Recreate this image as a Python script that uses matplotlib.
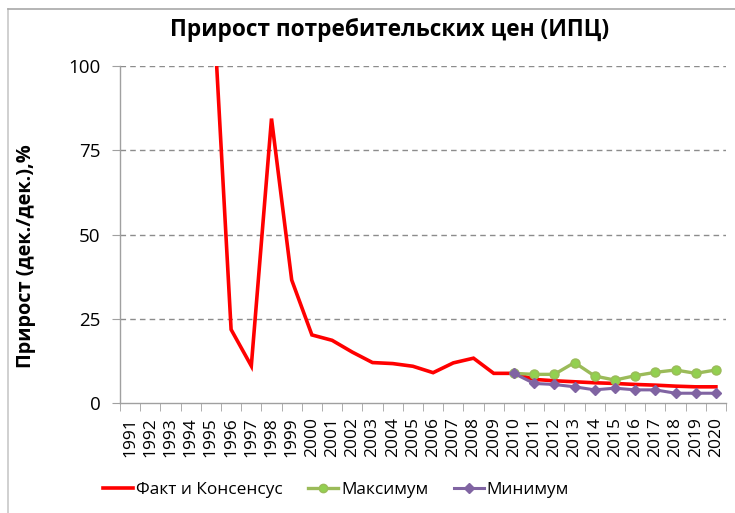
import matplotlib
matplotlib.use('Agg')
import matplotlib.pyplot as plt
from matplotlib.lines import Line2D

plt.rcParams['font.family'] = ['Open Sans', 'DejaVu Sans']

years = [str(y) for y in range(1991, 2021)]
fact = [160.4, 2508.8, 839.9, 215.1, 131.3, 21.8, 11.0, 84.4, 36.5, 20.2,
        18.6, 15.1, 12.0, 11.7, 10.9, 9.0, 11.9, 13.3, 8.8, 8.8,
        7.0, 6.6, 6.3, 6.0, 5.8, 5.5, 5.3, 5.0, 4.8, 4.8]
fc_years = [str(y) for y in range(2010, 2021)]
maximum = [8.8, 8.5, 8.5, 12.0, 8.0, 6.8, 8.1, 9.1, 9.8, 8.8, 9.8]
minimum = [8.8, 5.8, 5.5, 4.8, 3.9, 4.4, 3.9, 3.9, 2.9, 2.9, 2.9]
yticks = [0, 25, 50, 75, 100]

title = 'Прирост потребительских цен (ИПЦ)'
ylabel = 'Прирост (дек./дек.),%'
labels = ['Факт и Консенсус', 'Максимум', 'Минимум']

W, H = 735, 513
fig = plt.figure(figsize=(W / 100, H / 100), dpi=100)
ax = fig.add_axes([120 / W, 1 - 403 / H, (726 - 120) / W, (403 - 66) / H])

x_all = list(range(len(years)))
off = years.index(fc_years[0])
x_fc = [off + i for i in range(len(fc_years))]

ax.plot(x_all, fact, color='#FF0000', lw=2.6, zorder=3, solid_joinstyle='miter')
ax.plot(x_fc, maximum, color='#9BBB59', lw=2.4, marker='o', ms=6.5,
        mfc='#92D050', mec='#9BBB59', mew=1, zorder=4)
ax.plot(x_fc, minimum, color='#8064A2', lw=2.2, marker='D', ms=5.5,
        mfc='#8064A2', mec='#8064A2', zorder=5)

ax.set_xlim(-0.5, len(years) - 0.5)
ax.set_ylim(0, 100)
ax.set_yticks(yticks)
ax.set_yticklabels([str(v) for v in yticks], fontsize=13.5)
ax.set_xticks(x_all)
ax.set_xticklabels(years, rotation=90, fontsize=12.5)
ax.set_xticks([i - 0.5 for i in range(len(years) + 1)], minor=True)
ax.tick_params(axis='x', which='major', length=0, pad=10)
ax.tick_params(axis='x', which='minor', length=6, color='#A0A0A0', direction='out')
ax.tick_params(axis='y', length=6, color='#A0A0A0', direction='out', pad=8)

for v in yticks[1:]:
    ax.axhline(v, color='#8C8C8C', lw=1, ls=(0, (4, 3)), zorder=1)

for s in ['top', 'right']:
    ax.spines[s].set_visible(False)
for s in ['left', 'bottom']:
    ax.spines[s].set_color('#A0A0A0')
    ax.spines[s].set_linewidth(1)

fig.text(390 / W, 1 - 30 / H, title, ha='center', va='center',
         fontsize=16.3, fontweight='bold')
fig.text(26 / W, 1 - 256 / H, ylabel, ha='center', va='center',
         rotation=90, fontsize=14.3, fontweight='bold')

handles = [
    Line2D([], [], color='#FF0000', lw=2.6),
    Line2D([], [], color='#9BBB59', lw=2.4, marker='o', ms=6, mfc='#92D050', mec='#9BBB59'),
    Line2D([], [], color='#8064A2', lw=2.2, marker='D', ms=5, mfc='#8064A2'),
]
fig.legend(handles, labels, loc='center left', bbox_to_anchor=(103 / W, 1 - 490 / H),
           ncol=3, frameon=False, fontsize=12.4, handlelength=1.75, handletextpad=0.15,
           columnspacing=1.5, borderaxespad=0, borderpad=0)

# chart area border
fig.add_artist(Line2D([8 / W, 8 / W], [0, 1 - 9 / H], transform=fig.transFigure,
                      color='#C8C8C8', lw=1.2))
fig.add_artist(Line2D([8 / W, 1], [1 - 9 / H, 1 - 9 / H], transform=fig.transFigure,
                      color='#A8A8A8', lw=1.2))

fig.savefig('out.png', dpi=100)
